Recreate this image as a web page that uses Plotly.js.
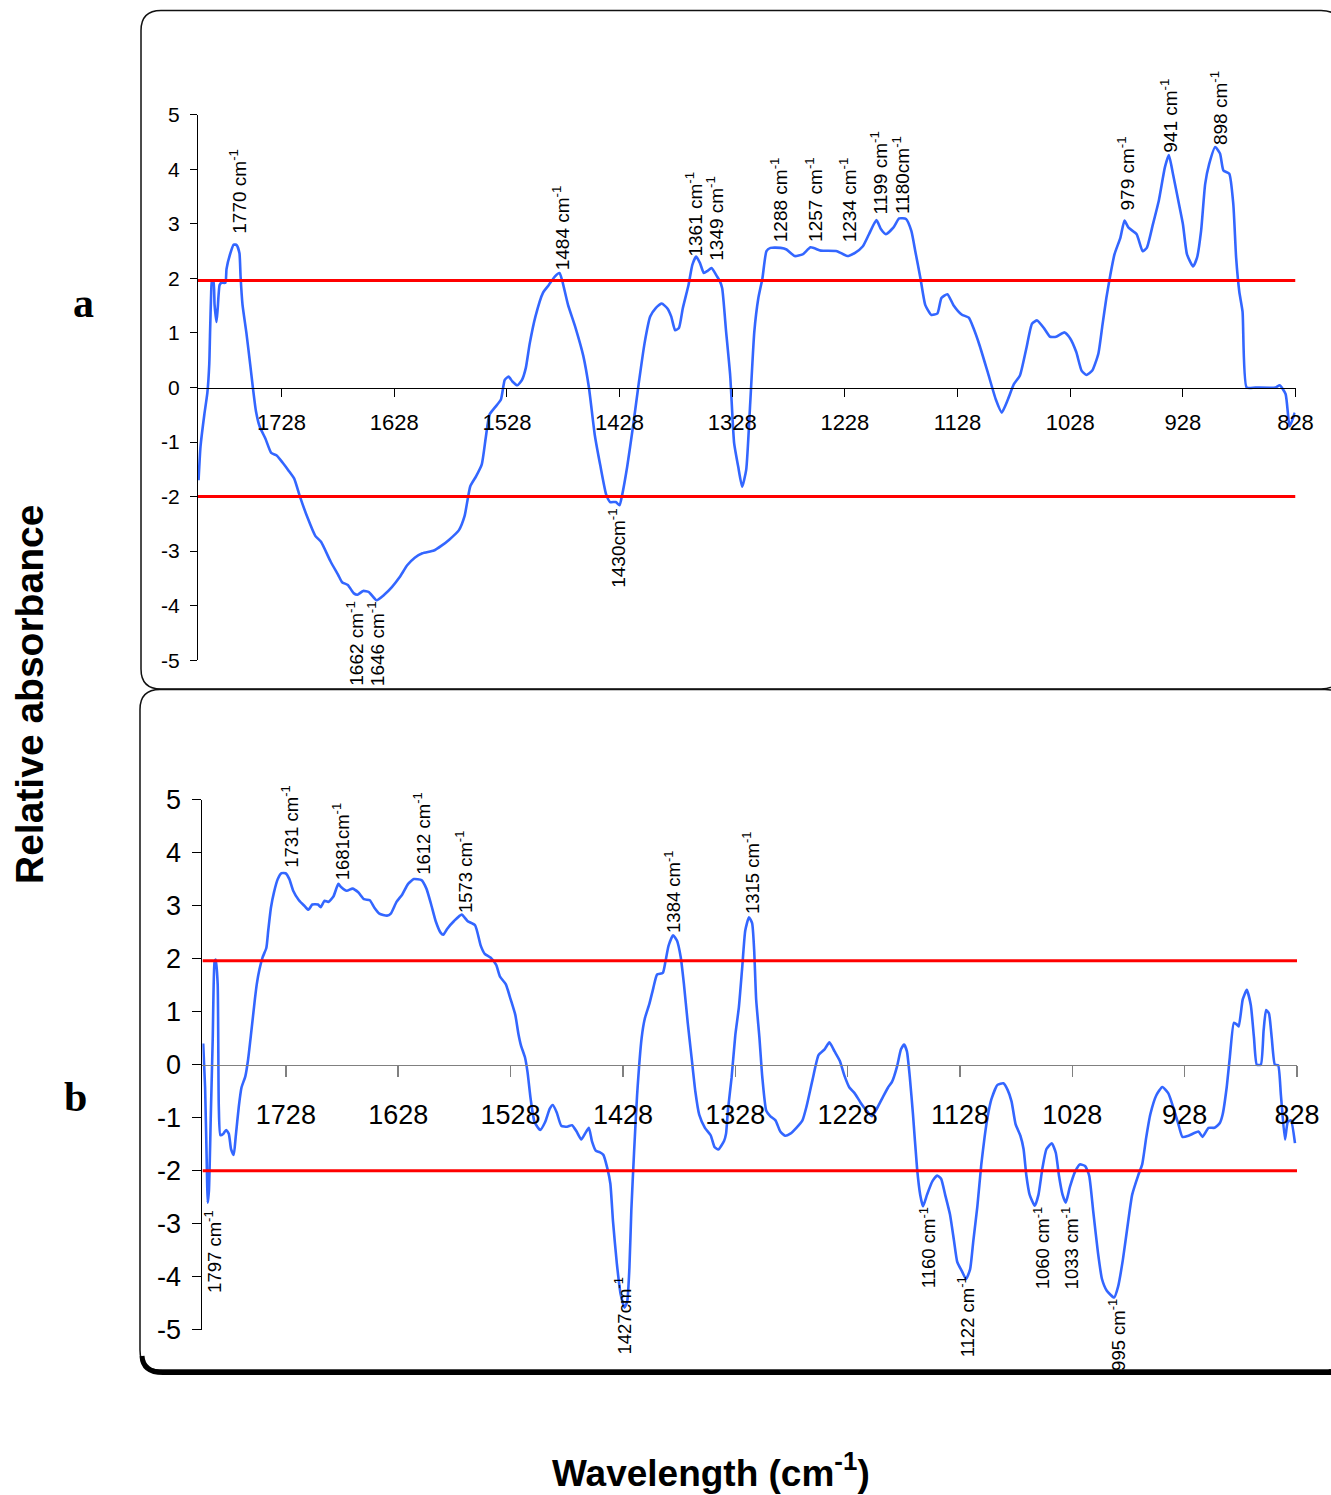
<!DOCTYPE html>
<html>
<head>
<meta charset="utf-8">
<script src="https://cdn.plot.ly/plotly-3.0.1.min.js"></script>
<style>
  html, body { margin: 0; padding: 0; background: #ffffff; }
  #chart { width: 1331px; height: 1495px; }
</style>
</head>
<body>
<div id="chart"></div>
<script>
// ---------------- DATA ----------------
// Panel a: wavenumber (cm-1) and relative absorbance
const waveA = [1801.7,1800.0,1796.6,1793.9,1792.2,1791.5,1790.5,1789.8,1788.5,1787.5,1785.8,1784.7,1783.0,1781.3,1777.9,1776.9,1773.5,1770.5,1767.8,1765.4,1764.4,1762.7,1759.3,1755.9,1753.5,1750.8,1747.4,1742.3,1737.2,1732.1,1727.0,1721.9,1716.8,1711.7,1704.9,1698.1,1693.0,1684.5,1677.7,1674.3,1669.2,1664.1,1660.7,1655.6,1650.5,1643.7,1636.9,1630.1,1623.3,1616.5,1609.8,1603.0,1592.8,1586.0,1579.2,1570.7,1565.6,1560.5,1555.4,1550.3,1546.9,1543.5,1538.4,1533.3,1529.9,1526.5,1523.1,1518.7,1514.6,1511.2,1507.8,1502.7,1495.9,1490.8,1485.7,1481.3,1478.9,1473.8,1467.0,1460.2,1455.2,1450.0,1444.9,1439.9,1436.4,1431.4,1428.0,1425.6,1421.2,1416.1,1411.0,1405.9,1400.8,1395.7,1390.6,1385.5,1382.1,1378.7,1375.3,1371.9,1366.8,1363.4,1360.0,1356.6,1353.2,1349.8,1346.4,1341.3,1339.0,1336.9,1333.4,1329.8,1326.3,1322.7,1319.2,1315.6,1312.0,1308.4,1304.8,1301.2,1297.6,1294.0,1285.0,1279.8,1272.6,1265.5,1258.4,1249.4,1235.0,1226.0,1219.0,1212.0,1206.6,1200.0,1195.9,1191.6,1185.0,1179.8,1173.7,1169.0,1165.5,1160.9,1156.6,1151.2,1145.8,1142.3,1137.0,1131.6,1124.4,1118.0,1113.7,1108.4,1101.2,1094.0,1088.7,1083.3,1078.0,1072.6,1067.0,1061.9,1057.3,1051.0,1045.8,1040.5,1033.0,1028.0,1022.6,1017.9,1013.7,1008.4,1003.0,999.4,995.9,992.3,988.7,983.4,979.8,976.2,969.0,963.7,960.0,954.6,949.3,943.9,940.4,936.8,931.4,927.9,924.3,918.9,915.4,911.8,908.2,904.6,899.3,895.0,892.0,886.8,883.2,880.7,877.9,875.0,871.4,863.6,845.7,842.0,836.8,833.2,828.6];
const absA = [-1.70,-1.09,-0.50,-0.10,0.43,1.00,1.74,1.96,1.96,1.52,1.20,1.45,1.88,1.92,1.92,2.17,2.46,2.62,2.61,2.46,2.03,1.52,1.01,0.43,0.00,-0.43,-0.72,-0.94,-1.20,-1.25,-1.38,-1.52,-1.67,-2.00,-2.39,-2.72,-2.83,-3.19,-3.44,-3.57,-3.62,-3.77,-3.80,-3.73,-3.75,-3.90,-3.80,-3.66,-3.48,-3.26,-3.12,-3.04,-2.99,-2.90,-2.79,-2.62,-2.36,-1.81,-1.63,-1.41,-0.94,-0.50,-0.36,-0.22,0.14,0.20,0.11,0.04,0.14,0.36,0.80,1.30,1.74,1.88,2.03,2.10,1.96,1.52,1.09,0.58,0.00,-0.87,-1.45,-1.96,-2.10,-2.10,-2.16,-1.96,-1.45,-0.72,0.07,0.80,1.30,1.46,1.54,1.45,1.30,1.05,1.09,1.45,1.88,2.25,2.40,2.28,2.10,2.14,2.19,2.03,1.95,1.82,1.02,0.22,-1.02,-1.45,-1.82,-1.51,-0.28,1.02,1.64,2.00,2.50,2.56,2.56,2.53,2.41,2.44,2.57,2.51,2.50,2.41,2.47,2.59,2.81,3.07,2.90,2.81,2.93,3.10,3.09,2.87,2.50,2.00,1.51,1.33,1.36,1.64,1.71,1.51,1.34,1.28,1.08,0.77,0.28,-0.22,-0.46,-0.22,0.06,0.22,0.71,1.17,1.23,1.08,0.93,0.93,1.01,0.90,0.65,0.31,0.23,0.31,0.62,1.14,1.64,2.07,2.44,2.75,3.06,2.93,2.81,2.50,2.56,2.99,3.43,4.04,4.26,3.92,3.36,2.99,2.44,2.22,2.38,2.87,3.73,4.10,4.41,4.29,3.98,3.92,3.36,2.38,1.76,1.39,0.00,0.00,0.00,0.04,-0.12,-0.71,-0.46];

// Panel b
const waveB = [1801.6,1799.9,1798.2,1797.6,1796.5,1794.8,1793.1,1791.4,1790.4,1788.7,1787.7,1786.3,1783.6,1781.2,1778.8,1776.8,1774.4,1772.7,1769.9,1767.5,1764.1,1761.8,1759.0,1755.6,1753.9,1751.5,1748.8,1745.4,1743.7,1741.3,1738.6,1735.2,1731.8,1728.3,1724.9,1721.5,1716.4,1711.3,1707.9,1704.5,1699.4,1697.0,1693.6,1690.2,1685.7,1681.3,1678.9,1673.8,1668.7,1663.6,1658.4,1653.3,1649.2,1644.8,1638.0,1634.6,1629.5,1624.4,1619.2,1614.1,1607.3,1602.9,1598.8,1594.7,1590.3,1587.9,1584.5,1578.3,1571.5,1566.4,1559.6,1554.5,1551.0,1545.9,1540.8,1537.4,1532.3,1527.9,1523.8,1521.0,1518.7,1515.2,1512.9,1510.1,1506.7,1501.6,1497.2,1493.1,1490.4,1486.9,1482.9,1477.7,1473.3,1469.2,1465.1,1461.7,1458.3,1455.6,1452.2,1448.8,1445.4,1441.9,1439.2,1436.8,1433.4,1430.0,1426.6,1424.2,1422.2,1420.5,1418.1,1415.4,1411.3,1408.5,1404.4,1401.0,1397.6,1392.5,1390.1,1387.4,1383.3,1379.9,1376.5,1373.7,1370.3,1366.9,1363.5,1360.1,1355.0,1349.9,1346.5,1343.1,1338.0,1336.2,1334.5,1331.3,1328.0,1324.8,1321.9,1319.1,1315.8,1313.0,1311.2,1309.4,1306.5,1304.0,1300.4,1296.9,1292.2,1287.9,1283.6,1279.0,1273.6,1268.2,1264.6,1259.3,1253.9,1248.5,1244.2,1239.6,1234.9,1230.6,1226.4,1221.7,1216.3,1211.0,1206.3,1202.0,1196.6,1192.0,1188.4,1184.1,1180.5,1177.7,1175.2,1172.7,1169.8,1166.2,1163.4,1160.9,1157.3,1152.6,1148.3,1144.8,1141.2,1136.9,1133.3,1130.4,1126.1,1122.6,1119.0,1116.1,1112.5,1109.0,1106.1,1103.6,1100.0,1094.6,1089.3,1085.7,1082.1,1078.5,1074.2,1071.4,1068.9,1066.0,1061.4,1058.1,1054.6,1051.0,1046.3,1042.7,1039.9,1036.7,1033.8,1030.2,1025.6,1021.3,1016.6,1013.0,1009.5,1005.2,1001.6,997.3,990.8,987.3,983.0,978.3,974.7,969.4,965.8,962.2,958.6,953.3,947.9,942.5,937.2,933.6,930.0,924.6,915.7,912.1,906.7,901.4,896.7,894.2,890.6,887.8,884.2,881.7,879.9,876.3,872.7,869.1,866.3,863.8,860.2,857.7,855.5,853.0,850.5,847.7,844.8,842.3,838.7,836.2,833.4,829.8];
const absB = [0.40,-0.43,-2.09,-2.60,-2.38,-0.94,0.50,1.95,1.98,1.52,-0.79,-1.33,-1.30,-1.23,-1.30,-1.59,-1.70,-1.37,-0.79,-0.43,-0.22,0.07,0.58,1.23,1.52,1.80,2.02,2.20,2.53,2.96,3.25,3.50,3.61,3.61,3.50,3.28,3.10,2.99,2.92,3.02,3.02,2.97,3.09,3.07,3.17,3.41,3.35,3.28,3.32,3.25,3.12,3.10,2.96,2.85,2.81,2.85,3.07,3.21,3.41,3.50,3.48,3.32,3.03,2.71,2.49,2.45,2.56,2.71,2.83,2.71,2.63,2.24,2.09,2.02,1.88,1.66,1.52,1.23,0.94,0.58,0.36,0.14,-0.14,-0.65,-1.08,-1.23,-1.08,-0.83,-0.76,-0.90,-1.15,-1.17,-1.14,-1.26,-1.41,-1.30,-1.19,-1.44,-1.62,-1.65,-1.70,-1.95,-2.24,-2.96,-3.75,-4.33,-4.58,-4.47,-3.82,-2.74,-1.66,-0.58,0.51,0.87,1.15,1.44,1.70,1.73,1.95,2.24,2.44,2.34,2.02,1.52,0.79,0.14,-0.51,-0.94,-1.19,-1.33,-1.55,-1.60,-1.44,-1.30,-0.85,-0.25,0.55,1.08,1.81,2.53,2.78,2.67,2.17,1.23,0.51,-0.22,-0.87,-0.97,-1.05,-1.26,-1.34,-1.30,-1.19,-1.05,-0.79,-0.29,0.18,0.29,0.42,0.25,0.07,-0.22,-0.43,-0.54,-0.72,-0.87,-0.97,-0.83,-0.61,-0.43,-0.32,-0.04,0.29,0.38,0.25,-0.22,-0.94,-1.95,-2.45,-2.67,-2.45,-2.20,-2.09,-2.15,-2.45,-2.82,-3.32,-3.72,-3.90,-4.04,-3.86,-3.32,-2.67,-1.88,-1.37,-1.01,-0.65,-0.38,-0.35,-0.47,-0.69,-1.12,-1.34,-1.59,-2.09,-2.45,-2.66,-2.45,-1.95,-1.59,-1.48,-1.66,-2.09,-2.45,-2.60,-2.31,-2.02,-1.88,-1.91,-2.09,-2.74,-3.54,-4.04,-4.26,-4.39,-4.19,-3.68,-2.96,-2.45,-2.09,-1.88,-1.37,-0.94,-0.58,-0.42,-0.54,-0.87,-1.12,-1.36,-1.34,-1.26,-1.36,-1.19,-1.19,-1.10,-0.94,-0.43,0.14,0.79,0.76,0.72,1.23,1.41,1.12,0.51,0.00,0.00,0.65,1.03,0.97,0.51,0.00,-0.01,-0.58,-1.41,-1.08,-1.05,-1.48];

// Threshold lines (same in both panels)
const thresholdX = [1802.2, 828];
const thresholdUpper = [1.96, 1.96];
const thresholdLower = [-2.0, -2.0];

// Axis ticks
const xTickVals = [1728, 1628, 1528, 1428, 1328, 1228, 1128, 1028, 928, 828];
const xTickText = ['1728', '1628', '1528', '1428', '1328', '1228', '1128', '1028', '928', '828'];
const yTickVals = [-5, -4, -3, -2, -1, 0, 1, 2, 3, 4, 5];
const yTickText = ['-5', '-4', '-3', '-2', '-1', '0', '1', '2', '3', '4', '5'];

// Peak labels, panel a
const labelsAText = ['1770 cm', '1662 cm', '1646 cm', '1484 cm', '1430cm', '1361 cm', '1349 cm', '1288 cm', '1257 cm', '1234 cm', '1199 cm', '1180cm', '979 cm', '941 cm', '898 cm'];
const labelsAX = [1766.7, 1662.8, 1644.7, 1480.0, 1430.9, 1362.0, 1344.0, 1285.8, 1255.0, 1224.5, 1197.9, 1178.3, 978.8, 940.6, 895.8];
const labelsAY = [2.81, -3.90, -3.90, 2.14, -2.21, 2.39, 2.30, 2.65, 2.65, 2.65, 3.16, 3.16, 3.22, 4.28, 4.43];
const labelsASide = ['up', 'down', 'down', 'up', 'down', 'up', 'up', 'up', 'up', 'up', 'up', 'up', 'up', 'up', 'up'];

// Peak labels, panel b
const labelsBText = ['1797 cm', '1731 cm', '1681cm', '1612 cm', '1573 cm', '1427cm', '1384 cm', '1315 cm', '1160 cm', '1122 cm', '1060 cm', '1033 cm', '995 cm'];
const labelsBX = [1793.0, 1724.0, 1678.9, 1606.4, 1569.9, 1427.8, 1384.1, 1314.5, 1157.0, 1123.0, 1055.0, 1030.0, 988.8];
const labelsBY = [-2.74, 3.70, 3.45, 3.57, 2.83, -4.00, 2.47, 2.83, -2.67, -3.97, -2.67, -2.67, -4.39];
const labelsBSide = ['down', 'up', 'up', 'up', 'up', 'down', 'up', 'up', 'down', 'down', 'down', 'down', 'down'];

// ---------------- LAYOUT HELPERS ----------------
const W = 1331, H = 1495;
const PX = x => x / W;
const PY = y => 1 - y / H;

function roundRectPath(l, t, r, b, rad) {
  const p = (x, y) => PX(x).toFixed(5) + ',' + PY(y).toFixed(5);
  return 'M' + p(l, t + rad) + ' Q' + p(l, t) + ' ' + p(l + rad, t) +
         ' L' + p(r - rad, t) + ' Q' + p(r, t) + ' ' + p(r, t + rad) +
         ' L' + p(r, b - rad) + ' Q' + p(r, b) + ' ' + p(r - rad, b) +
         ' L' + p(l + rad, b) + ' Q' + p(l, b) + ' ' + p(l, b - rad) + ' Z';
}

const BLUE = '#3366FF';
const RED = '#FF0000';
const FONT = 'Liberation Sans, Arial, sans-serif';
const blueLine = { color: BLUE, width: 2.6, shape: 'spline', smoothing: 0.5 };

const traces = [
  { x: waveA, y: absA, xaxis: 'x', yaxis: 'y', mode: 'lines', line: blueLine, hoverinfo: 'skip' },
  { x: thresholdX, y: thresholdUpper, xaxis: 'x', yaxis: 'y', mode: 'lines', line: { color: RED, width: 3 }, hoverinfo: 'skip' },
  { x: thresholdX, y: thresholdLower, xaxis: 'x', yaxis: 'y', mode: 'lines', line: { color: RED, width: 3 }, hoverinfo: 'skip' },
  { x: waveB, y: absB, xaxis: 'x2', yaxis: 'y2', mode: 'lines', line: blueLine, hoverinfo: 'skip' },
  { x: thresholdX, y: thresholdUpper, xaxis: 'x2', yaxis: 'y2', mode: 'lines', line: { color: RED, width: 3 }, hoverinfo: 'skip' },
  { x: thresholdX, y: thresholdLower, xaxis: 'x2', yaxis: 'y2', mode: 'lines', line: { color: RED, width: 3 }, hoverinfo: 'skip' }
];

function peakAnnotations(texts, xs, ys, sides, xref, yref, size) {
  return texts.map((t, i) => ({
    text: t + '<sup>-1</sup>',
    x: xs[i], y: ys[i], xref: xref, yref: yref,
    showarrow: false, textangle: -90,
    xanchor: 'center', yanchor: sides[i] === 'up' ? 'bottom' : 'top',
    borderpad: 0,
    font: { family: FONT, size: size, color: '#000000' }
  }));
}

const annotations = []
  .concat(peakAnnotations(labelsAText, labelsAX, labelsAY, labelsASide, 'x', 'y', 19))
  .concat(peakAnnotations(labelsBText, labelsBX, labelsBY, labelsBSide, 'x2', 'y2', 18.5))
  .concat([
    { text: '<b>Relative absorbance</b>', xref: 'paper', yref: 'paper', x: PX(29), y: PY(695),
      xanchor: 'center', yanchor: 'middle', textangle: -90, showarrow: false,
      font: { family: FONT, size: 39, color: '#000000' } },
    { text: '<b>Wavelength (cm<sup>-1</sup>)</b>', xref: 'paper', yref: 'paper', x: PX(711), y: PY(1470),
      xanchor: 'center', yanchor: 'middle', showarrow: false,
      font: { family: FONT, size: 37, color: '#000000' } },
    { text: '<b>a</b>', xref: 'paper', yref: 'paper', x: PX(83), y: PY(303),
      xanchor: 'center', yanchor: 'middle', showarrow: false,
      font: { family: 'Liberation Serif, Times New Roman, serif', size: 42, color: '#000000' } },
    { text: '<b>b</b>', xref: 'paper', yref: 'paper', x: PX(75), y: PY(1097),
      xanchor: 'center', yanchor: 'middle', showarrow: false,
      font: { family: 'Liberation Serif, Times New Roman, serif', size: 42, color: '#000000' } }
  ]);

const shapes = [
  { type: 'path', xref: 'paper', yref: 'paper', path: roundRectPath(141, 10.5, 1341, 689, 20),
    line: { color: '#111111', width: 1.5 }, fillcolor: 'rgba(0,0,0,0)', layer: 'below' },
  { type: 'path', xref: 'paper', yref: 'paper', path: roundRectPath(140, 689.5, 1345, 1370, 20),
    line: { color: '#111111', width: 1.5 }, fillcolor: 'rgba(0,0,0,0)', layer: 'below' },
  { type: 'path', xref: 'paper', yref: 'paper',
    path: 'M' + PX(142) + ',' + PY(1356) + ' Q' + PX(143) + ',' + PY(1372.5) + ' ' + PX(163) + ',' + PY(1372.5) + ' L' + PX(1345) + ',' + PY(1372.5),
    line: { color: '#000000', width: 5 }, fillcolor: 'rgba(0,0,0,0)', layer: 'below' }
];

const layout = {
  width: W, height: H,
  margin: { l: 0, r: 0, t: 0, b: 0, pad: 0 },
  paper_bgcolor: '#ffffff', plot_bgcolor: 'rgba(0,0,0,0)',
  showlegend: false,
  xaxis: {
    domain: [PX(198), PX(1295.5)], range: [1802.2, 828], anchor: 'free', position: PY(388.3),
    tickmode: 'array', tickvals: xTickVals, ticktext: xTickText,
    ticks: 'outside', ticklen: 8, tickwidth: 1, tickcolor: '#000000',
    showline: true, linecolor: '#000000', linewidth: 1,
    showgrid: false, zeroline: false, ticklabelstandoff: 6,
    tickfont: { family: FONT, size: 22, color: '#000000' }
  },
  yaxis: {
    domain: [PY(660.2), PY(114.8)], range: [-5, 5], anchor: 'x',
    tickmode: 'array', tickvals: yTickVals, ticktext: yTickText,
    ticks: 'outside', ticklen: 7, tickwidth: 1, tickcolor: '#000000',
    showline: true, linecolor: '#000000', linewidth: 1,
    showgrid: false, zeroline: false, ticklabelstandoff: 6,
    tickfont: { family: FONT, size: 21, color: '#000000' }
  },
  xaxis2: {
    domain: [PX(202.4), PX(1297)], range: [1802.3, 828], anchor: 'free', position: PY(1064.7),
    tickmode: 'array', tickvals: xTickVals, ticktext: xTickText,
    ticks: 'outside', ticklen: 11, tickwidth: 1.5, tickcolor: '#808080',
    showline: true, linecolor: '#808080', linewidth: 1.5,
    showgrid: false, zeroline: false, ticklabelstandoff: 14,
    tickfont: { family: FONT, size: 27, color: '#000000' }
  },
  yaxis2: {
    domain: [PY(1329.9), PY(799.5)], range: [-5, 5], anchor: 'x2',
    tickmode: 'array', tickvals: yTickVals, ticktext: yTickText,
    ticks: 'outside', ticklen: 9, tickwidth: 1, tickcolor: '#000000',
    showline: true, linecolor: '#000000', linewidth: 1,
    showgrid: false, zeroline: false, ticklabelstandoff: 6,
    tickfont: { family: FONT, size: 27, color: '#000000' }
  },
  annotations: annotations,
  shapes: shapes
};

Plotly.newPlot('chart', traces, layout, { staticPlot: true, displayModeBar: false });
</script>
</body>
</html>
